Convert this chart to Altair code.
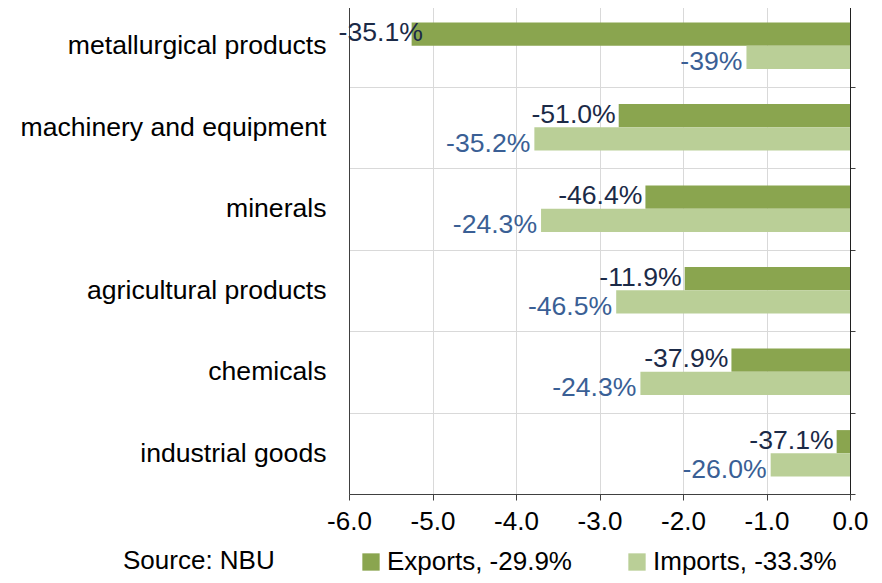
import altair as alt
import pandas as pd

categories = ["metallurgical products", "machinery and equipment", "minerals ",
              "agricultural products", "chemicals", "industrial goods"]
series_names = ["Exports, -29.9%", "Imports, -33.3%"]
exports_val = [-5.25, -2.77, -2.45, -1.98, -1.42, -0.16]
imports_val = [-1.24, -3.78, -3.70, -2.80, -2.51, -0.95]
exports_lbl = ["-35.1%", "-51.0%", "-46.4%", "-11.9%", "-37.9%", "-37.1%"]
imports_lbl = ["-39%", "-35.2%", "-24.3%", "-46.5%", "-24.3%", "-26.0%"]
x_ticks = [-6, -5, -4, -3, -2, -1, 0]

rows = []
for c, v, l in zip(categories, exports_val, exports_lbl):
    rows.append({"category": c, "series": series_names[0], "value": v, "label": l})
for c, v, l in zip(categories, imports_val, imports_lbl):
    rows.append({"category": c, "series": series_names[1], "value": v, "label": l})
df = pd.DataFrame(rows)

FONT = "Liberation Sans"
FS = 26
FSL = 26.6
DARK = "#8AA54F"
LIGHT = "#BACF97"

x_enc = alt.X("value:Q",
              scale=alt.Scale(domain=[-6, 0], nice=False),
              axis=alt.Axis(values=x_ticks, title=None,
                            labelExpr="(datum.value < 0 ? '-' : '') + format(abs(datum.value), '.1f')",
                            labelFontSize=FS, labelColor="#000000", labelFont=FONT,
                            tickSize=6, tickColor="#404040", domainColor="#404040",
                            labelPadding=8, gridColor="#D9D9D9", grid=True,
                            labelFlush=False))
y_left = alt.Y("category:N", sort=categories,
               scale=alt.Scale(paddingInner=0, paddingOuter=0),
               axis=alt.Axis(title=None, labelFontSize=FSL, labelColor="#000000",
                             labelFont=FONT, ticks=False, labelPadding=23,
                             domainColor="#404040", grid=True, gridColor="#D9D9D9",
                             tickBand="extent", labelLimit=400))
y_off = alt.YOffset("series:N", sort=series_names,
                    scale=alt.Scale(paddingOuter=0.76, paddingInner=0))

bars = alt.Chart(df).mark_bar().encode(
    x=x_enc,
    y=y_left,
    yOffset=y_off,
    color=alt.Color("series:N", sort=series_names,
                    scale=alt.Scale(domain=series_names, range=[DARK, LIGHT]),
                    legend=alt.Legend(title=None, orient="none", direction="horizontal",
                                      legendX=9, legendY=544, padding=0,
                                      symbolType="square", symbolSize=300,
                                      symbolStrokeWidth=0,
                                      labelFontSize=FS, labelFont=FONT,
                                      labelColor="#000000", labelOffset=3,
                                      columnPadding=52, labelLimit=400)),
)

right_axis = alt.Chart(df).mark_bar(opacity=0).encode(
    x=alt.X("value:Q"),
    y=alt.Y("category:N", sort=categories,
            axis=alt.Axis(orient="right", title=None, labels=False, ticks=True,
                          tickSize=5, tickColor="#404040", domainColor="#202020",
                          tickBand="extent", grid=False)),
    yOffset=y_off,
)

exp_text = alt.Chart(df).transform_filter(
    alt.datum.series == series_names[0]
).transform_calculate(
    lx="max(datum.value, -5.08)"
).mark_text(align="right", baseline="middle", dx=-3, dy=-1, fontSize=FSL,
            font=FONT, color="#1B2A47").encode(
    x=alt.X("lx:Q"),
    y=alt.Y("category:N", sort=categories, axis=None),
    yOffset=y_off,
    text="label:N",
)

imp_text = alt.Chart(df).transform_filter(
    alt.datum.series == series_names[1]
).mark_text(align="right", baseline="middle", dx=-4, dy=5, fontSize=FSL,
            font=FONT, color="#3A5F95").encode(
    x=alt.X("value:Q"),
    y=alt.Y("category:N", sort=categories, axis=None),
    yOffset=y_off,
    text="label:N",
)

source = alt.Chart(pd.DataFrame({"t": ["Source: NBU"]})).mark_text(
    align="left", baseline="middle", fontSize=FS, font=FONT, color="#000000"
).encode(x=alt.value(-226), y=alt.value(556), text="t:N")

chart = alt.layer(bars, right_axis, exp_text, imp_text, source).resolve_axis(
    y="independent"
).properties(
    width=501, height=489,
    autosize=alt.AutoSizeParams(type="none"),
    padding={"left": 341, "top": -3, "right": 24, "bottom": 81},
).configure_view(stroke=None)

chart.save("out.html", embed_options={"renderer": "svg", "actions": False})
